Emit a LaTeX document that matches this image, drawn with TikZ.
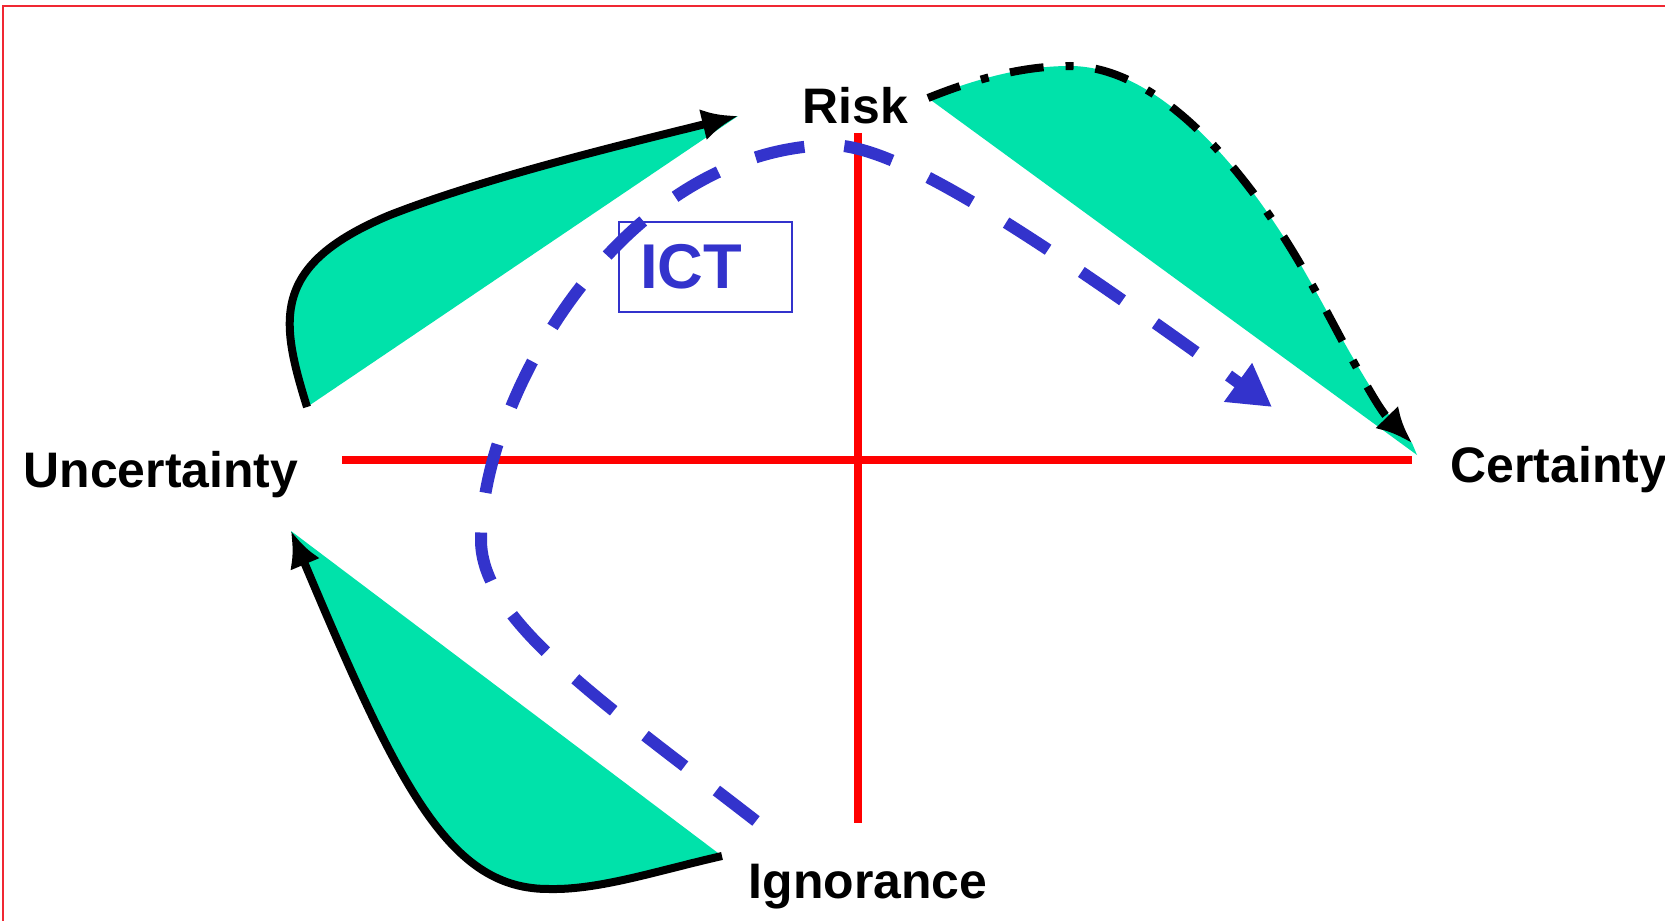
\documentclass[tikz,border=0pt]{standalone}
\usepackage{fontspec}
\setmainfont{Liberation Sans}
\usepackage{tikz}
\usetikzlibrary{positioning,arrows.meta}
\definecolor{riskgreen}{RGB}{0,226,170}
\definecolor{ictblue}{RGB}{51,51,204}
\definecolor{framered}{RGB}{240,40,50}
\tikzset{
  axislabel/.style={inner sep=0pt, anchor=base west, text=black,
                    font=\fontsize{14.2}{17}\selectfont\bfseries},
  ictbox/.style={draw=ictblue, line width=0.02cm, text=ictblue, inner xsep=0.21cm, inner ysep=0pt,
                 text width=1.31cm, align=left, minimum height=0.9cm,
                 font=\fontsize{18}{22}\selectfont\bfseries},
  axisline/.style={red, line width=0.075cm},
  solidarr/.style={black, line width=0.08cm, -{Latex[length=0.36cm,width=0.32cm]}},
  dotarr/.style={black, line width=0.08cm, dash pattern=on 0.34cm off 0.22cm on 0.08cm off 0.22cm,
                 -{Latex[length=0.36cm,width=0.32cm]}},
  ictarr/.style={ictblue, line width=0.12cm, dash pattern=on 0.5cm off 0.4cm,
                 -{Triangle[length=0.42cm,width=0.45cm]}}
}

\begin{document}
\begin{tikzpicture}
  \useasboundingbox (0,0) rectangle (16.65,9.2);
  \fill[white] (0,0) rectangle (16.65,9.2);
  \clip (0,0) rectangle (16.65,9.2);
  % Frame
  \draw[framered, line width=0.02cm] (0.03,-1) rectangle (17,9.14);

  % Labels
  \node[axislabel] (unc) at (0.23,4.33) {Uncertainty};
  \node[axislabel] (cert) at (14.50,4.38) {Certainty};
  \node[axislabel] (risk) at (8.02,7.96) {Risk};
  \node[axislabel] (ign) at (7.48,0.22) {Ignorance};
  \node[ictbox] (ict) at (7.055,6.53) {ICT};

  % Curve ends
  \coordinate (a1) at (3.07,5.13);
  \coordinate (a2) at (7.38,8.04);
  \coordinate (b1) at (7.22,0.64);
  \coordinate (b2) at (2.91,3.89);
  \coordinate (c1) at (9.28,8.22);
  \coordinate (c2) at (14.12,4.77);
  \coordinate (c3) at (14.17,4.65);
  \coordinate (d1) at (7.56,0.99);
  \coordinate (d2) at (12.72,5.13);

  % Green wedges
  \fill[riskgreen] (a1) .. controls (2.80,6.00) and (2.70,6.55) .. (3.90,7.05)
    .. controls (4.80,7.40) and (6.00,7.70) .. (a2) -- cycle;
  \fill[riskgreen] (b1) .. controls (6.60,0.50) and (6.00,0.30) .. (5.50,0.31)
    .. controls (4.50,0.30) and (4.00,1.30) .. (b2) -- cycle;
  \fill[riskgreen] (c1) .. controls (9.85,8.45) and (10.30,8.54) .. (10.70,8.54)
    .. controls (11.50,8.54) and (12.30,7.70) .. (12.90,6.73)
    .. controls (13.25,6.17) and (13.70,5.20) .. (c2) -- (c3) -- cycle;

  % Axes
  \draw[axisline] (3.42,4.60) coordinate (xl) -- (14.12,4.60) coordinate (xr);
  \draw[axisline] (8.58,7.87) coordinate (yt) -- (8.58,0.97) coordinate (yb);

  % Arrows
  \draw[solidarr] (a1) .. controls (2.80,6.00) and (2.70,6.55) .. (3.90,7.05)
    .. controls (4.80,7.40) and (6.00,7.70) .. (a2);
  \draw[solidarr] (b1) .. controls (6.60,0.50) and (6.00,0.30) .. (5.50,0.31)
    .. controls (4.50,0.30) and (4.00,1.30) .. (b2);
  \draw[dotarr] (c1) .. controls (9.85,8.45) and (10.30,8.54) .. (10.70,8.54)
    .. controls (11.50,8.54) and (12.30,7.70) .. (12.90,6.73)
    .. controls (13.25,6.17) and (13.70,5.20) .. (c2);
  \draw[ictarr] (d1) .. controls (6.00,2.20) and (4.81,3.00) .. (4.81,3.80)
    .. controls (4.81,5.20) and (6.20,7.70) .. (8.30,7.75)
    .. controls (8.90,7.75) and (10.00,7.10) .. (d2);
\end{tikzpicture}
\end{document}
